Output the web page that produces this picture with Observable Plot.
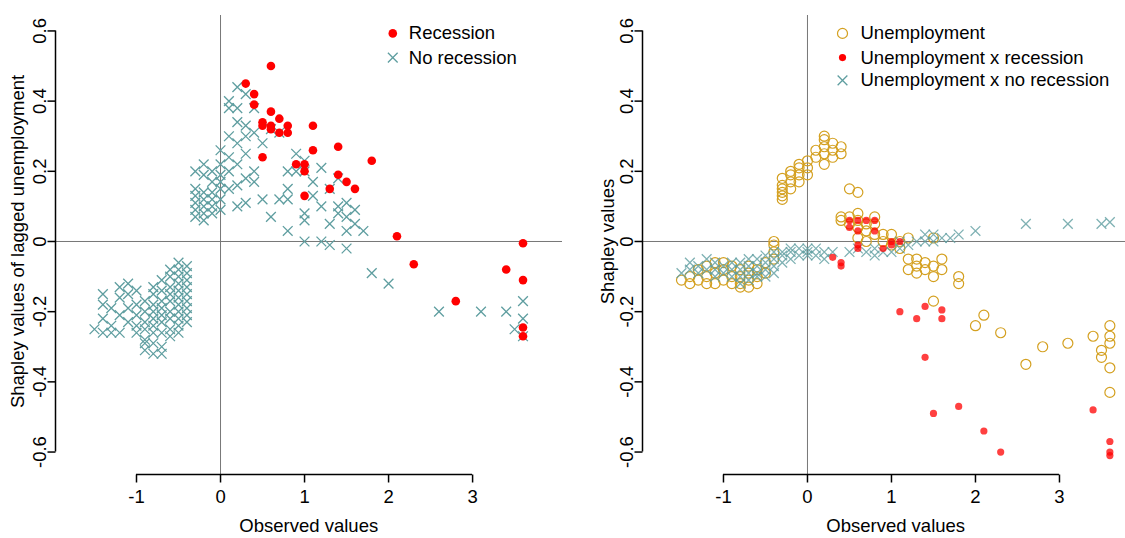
<!DOCTYPE html>
<html><head><meta charset="utf-8">
<script src="https://cdn.jsdelivr.net/npm/d3@7"></script>
<script src="https://cdn.jsdelivr.net/npm/@observablehq/plot@0.6"></script>
<style>
body{margin:0;background:#fff;font-family:"Liberation Sans",Arial,sans-serif}
#wrap{display:flex;width:1125px}
</style></head><body><div id="wrap"></div>
<script>
const teal = "#5F9EA0", gold = "#D4A020", red = "#FF0000"

// left panel: lagged unemployment
const leftNoRec = [
[-1.5,-0.25],[-1.4,-0.15],[-1.4,-0.18],[-1.4,-0.22],[-1.4,-0.26],[-1.3,-0.19],[-1.3,-0.24],[-1.3,-0.26],
[-1.2,-0.13],[-1.2,-0.16],[-1.2,-0.21],[-1.2,-0.26],[-1.1,-0.12],[-1.1,-0.15],[-1.1,-0.19],[-1.1,-0.23],
[-1.0,-0.14],[-1.0,-0.18],[-1.0,-0.21],[-1.0,-0.24],[-1.0,-0.26],
[-0.9,-0.17],[-0.9,-0.2],[-0.9,-0.23],[-0.9,-0.25],[-0.9,-0.28],[-0.9,-0.29],[-0.9,-0.31],
[-0.8,-0.13],[-0.8,-0.15],[-0.8,-0.18],[-0.8,-0.2],[-0.8,-0.22],[-0.8,-0.24],[-0.8,-0.26],[-0.8,-0.29],[-0.8,-0.32],
[-0.7,-0.11],[-0.7,-0.14],[-0.7,-0.17],[-0.7,-0.19],[-0.7,-0.21],[-0.7,-0.23],[-0.7,-0.26],[-0.7,-0.3],[-0.7,-0.32],
[-0.6,-0.08],[-0.6,-0.1],[-0.6,-0.13],[-0.6,-0.15],[-0.6,-0.17],[-0.6,-0.2],[-0.6,-0.22],[-0.6,-0.25],[-0.6,-0.27],
[-0.5,-0.06],[-0.5,-0.08],[-0.5,-0.1],[-0.5,-0.12],[-0.5,-0.14],[-0.5,-0.16],[-0.5,-0.18],[-0.5,-0.2],[-0.5,-0.22],[-0.5,-0.24],[-0.5,-0.26],
[-0.4,-0.07],[-0.4,-0.09],[-0.4,-0.11],[-0.4,-0.13],[-0.4,-0.15],[-0.4,-0.17],[-0.4,-0.19],[-0.4,-0.21],[-0.4,-0.23],
[-0.3,0.07],[-0.3,0.09],[-0.3,0.11],[-0.3,0.13],[-0.3,0.15],[-0.3,0.2],
[-0.2,0.06],[-0.2,0.08],[-0.2,0.1],[-0.2,0.12],[-0.2,0.14],[-0.2,0.19],[-0.2,0.22],
[-0.1,0.08],[-0.1,0.1],[-0.1,0.12],[-0.1,0.14],[-0.1,0.17],[-0.1,0.2],
[0,0.09],[0,0.12],[0,0.15],[0,0.17],[0,0.19],[0,0.22],[0,0.26],
[0.1,0.15],[0.1,0.2],[0.1,0.24],[0.1,0.3],[0.1,0.38],[0.1,0.4],
[0.2,0.1],[0.2,0.16],[0.2,0.22],[0.2,0.28],[0.2,0.34],[0.2,0.38],[0.2,0.44],
[0.3,0.11],[0.3,0.18],[0.3,0.25],[0.3,0.3],[0.3,0.33],[0.3,0.42],
[0.4,0.17],[0.4,0.2],[0.4,0.31],[0.4,0.38],[0.5,0.12],[0.5,0.28],[0.6,0.07],[0.6,0.32],
[0.7,0.12],[0.7,0.31],[0.8,0.03],[0.8,0.12],[0.8,0.15],[0.8,0.2],[0.9,0.2],[0.9,0.25],
[1.0,0.0],[1.0,0.06],[1.0,0.08],[1.0,0.2],[1.0,0.23],[1.1,0.13],[1.1,0.17],
[1.2,0.0],[1.2,0.1],[1.2,0.21],[1.3,-0.01],[1.3,0.05],[1.3,0.15],[1.4,0.08],[1.4,0.1],[1.4,0.18],
[1.5,-0.02],[1.5,0.03],[1.5,0.07],[1.5,0.11],[1.6,0.05],[1.6,0.09],[1.7,0.03],[1.8,-0.09],[2.0,-0.12],
[2.6,-0.2],[3.1,-0.2],[3.4,-0.2],[3.5,-0.25],[3.6,-0.17],[3.6,-0.22],[3.6,-0.27]
]
const leftRec = [
[0.3,0.45],[0.4,0.42],[0.4,0.39],[0.5,0.34],[0.5,0.33],[0.5,0.24],[0.6,0.5],[0.6,0.37],[0.6,0.33],[0.6,0.32],
[0.7,0.35],[0.7,0.31],[0.8,0.33],[0.8,0.31],[0.9,0.22],[1.0,0.22],[1.0,0.2],[1.0,0.13],[1.1,0.33],[1.1,0.26],
[1.3,0.15],[1.4,0.27],[1.4,0.19],[1.5,0.17],[1.6,0.15],[1.8,0.23],[2.1,0.015],[2.3,-0.065],[2.8,-0.17],
[3.4,-0.08],[3.6,-0.005],[3.6,-0.11],[3.6,-0.245],[3.6,-0.27]
]

// right panel: unemployment and interactions
const rightUnemp = [
[-1.5,-0.11],[-1.4,-0.1],[-1.4,-0.12],[-1.3,-0.08],[-1.3,-0.11],[-1.2,-0.07],[-1.2,-0.1],[-1.2,-0.12],
[-1.1,-0.06],[-1.1,-0.09],[-1.1,-0.12],[-1.0,-0.06],[-1.0,-0.08],[-1.0,-0.11],[-0.9,-0.07],[-0.9,-0.1],[-0.9,-0.12],
[-0.8,-0.08],[-0.8,-0.1],[-0.8,-0.12],[-0.8,-0.13],[-0.7,-0.07],[-0.7,-0.09],[-0.7,-0.11],[-0.7,-0.13],
[-0.6,-0.08],[-0.6,-0.1],[-0.6,-0.12],[-0.5,-0.06],[-0.5,-0.09],[-0.4,-0.05],[-0.4,-0.03],[-0.4,-0.01],[-0.4,0.0],
[-0.3,0.12],[-0.3,0.13],[-0.3,0.14],[-0.3,0.15],[-0.3,0.16],[-0.3,0.18],[-0.2,0.15],[-0.2,0.17],[-0.2,0.19],[-0.2,0.2],
[-0.1,0.17],[-0.1,0.19],[-0.1,0.21],[-0.1,0.22],[0,0.19],[0,0.21],[0,0.23],[0.1,0.24],[0.1,0.26],
[0.2,0.22],[0.2,0.25],[0.2,0.27],[0.2,0.29],[0.2,0.3],[0.3,0.24],[0.3,0.26],[0.3,0.28],[0.4,0.25],[0.4,0.27],
[0.5,0.15],[0.6,0.14],[0.4,0.07],[0.4,0.06],[0.5,0.05],[0.5,0.07],[0.6,0.08],[0.6,0.06],[0.6,0.04],[0.6,0.01],
[0.7,0.05],[0.7,0.03],[0.7,0.0],[0.8,0.07],[0.8,0.05],[0.8,0.02],[0.9,0.02],[0.9,0.0],[1.0,-0.01],[1.0,0.02],
[1.1,0.0],[1.1,-0.02],[1.2,-0.05],[1.2,-0.08],[1.2,0.01],[1.3,-0.05],[1.3,-0.07],[1.3,-0.09],[1.4,-0.06],[1.4,-0.08],
[1.5,-0.07],[1.5,-0.1],[1.5,-0.17],[1.5,0.01],[1.6,-0.05],[1.6,-0.08],[1.8,-0.1],[1.8,-0.12],
[2.0,-0.24],[2.1,-0.21],[2.3,-0.26],[2.6,-0.35],[2.8,-0.3],[3.1,-0.29],[3.4,-0.27],[3.5,-0.31],[3.5,-0.33],
[3.6,-0.24],[3.6,-0.27],[3.6,-0.29],[3.6,-0.36],[3.6,-0.43]
]
const rightRec = [
[0.3,-0.045],[0.4,-0.06],[0.4,-0.07],[0.5,0.06],[0.5,0.04],[0.6,0.06],[0.6,0.03],[0.6,-0.01],[0.6,-0.02],
[0.7,0.06],[0.8,0.06],[0.8,0.03],[0.9,-0.02],[1.0,0.0],[1.0,-0.01],[1.1,0.0],
[1.1,-0.2],[1.3,-0.22],[1.4,-0.185],[1.4,-0.33],[1.5,-0.49],[1.6,-0.195],[1.6,-0.22],[1.8,-0.47],[2.1,-0.54],
[2.3,-0.6],[3.4,-0.48],[3.6,-0.57],[3.6,-0.6],[3.6,-0.61]
]
const rightNoRec = [
[-1.5,-0.09],[-1.4,-0.06],[-1.4,-0.08],[-1.3,-0.07],[-1.3,-0.09],[-1.2,-0.05],[-1.2,-0.08],
[-1.1,-0.06],[-1.1,-0.08],[-1.1,-0.1],[-1.0,-0.07],[-1.0,-0.09],[-0.9,-0.06],[-0.9,-0.08],[-0.9,-0.1],
[-0.8,-0.06],[-0.8,-0.08],[-0.8,-0.1],[-0.8,-0.12],[-0.7,-0.05],[-0.7,-0.07],[-0.7,-0.09],[-0.7,-0.11],
[-0.6,-0.05],[-0.6,-0.07],[-0.6,-0.09],[-0.6,-0.1],[-0.5,-0.04],[-0.5,-0.06],[-0.5,-0.08],[-0.5,-0.1],
[-0.4,-0.03],[-0.4,-0.05],[-0.4,-0.07],[-0.4,-0.09],[-0.3,-0.03],[-0.3,-0.04],[-0.3,-0.06],
[-0.2,-0.02],[-0.2,-0.03],[-0.2,-0.05],[-0.1,-0.02],[-0.1,-0.04],[0,-0.02],[0,-0.03],[0,-0.04],
[0.1,-0.02],[0.1,-0.04],[0.2,-0.03],[0.2,-0.05],[0.3,-0.03],[0.5,-0.03],[0.6,-0.02],[0.7,-0.03],
[0.8,-0.04],[0.8,-0.02],[0.9,-0.03],[1.0,-0.03],[1.1,-0.02],[1.1,0.0],[1.2,-0.01],[1.3,0.0],
[1.4,0.0],[1.4,0.02],[1.5,0.0],[1.5,0.02],[1.6,0.01],[1.7,0.01],[1.8,0.02],[2.0,0.03],
[2.6,0.05],[3.1,0.05],[3.5,0.05],[3.6,0.055]
]

const xTicks = [-1, 0, 1, 2, 3]
const yTicks = [-0.6, -0.4, -0.2, 0, 0.2, 0.4, 0.6]
const fmt = d => d === 0 ? "0" : d.toFixed(1)
const fs = 18.5

function panel({width, marginLeft, xmax, ylabel, labelDx, marks, legend}) {
  const xmin = -1.964, ymin = -0.664
  const tx = 8 / 84, ty = 8 / 351 // tick length, 8px
  return Plot.plot({
    width, height: 538, marginLeft, marginRight: 0, marginTop: 15, marginBottom: 64,
    style: {fontFamily: "Liberation Sans, Arial, sans-serif", fontSize: fs + "px", background: "white"},
    x: {domain: [xmin, xmax], axis: null},
    y: {domain: [ymin, 0.644], axis: null},
    marks: [
      Plot.ruleX([0], {stroke: "#777", strokeWidth: 1}),
      Plot.ruleY([0], {stroke: "#777", strokeWidth: 1}),
      ...marks,
      // R style axes
      Plot.ruleX([xmin], {y1: -0.6, y2: 0.6, stroke: "black", strokeWidth: 1.5}),
      Plot.link(yTicks, {x1: xmin, x2: xmin - tx, y1: d => d, y2: d => d, stroke: "black", strokeWidth: 1.5}),
      Plot.text(yTicks, {x: xmin, y: d => d, text: fmt, rotate: -90, dx: -15, fill: "black", fontSize: fs}),
      Plot.ruleY([ymin], {x1: -1, x2: 3, stroke: "black", strokeWidth: 1.5}),
      Plot.link(xTicks, {x1: d => d, x2: d => d, y1: ymin, y2: ymin - ty, stroke: "black", strokeWidth: 1.5}),
      Plot.text(xTicks, {x: d => d, y: ymin, text: d => String(d), dy: 23, fill: "black", fontSize: fs}),
      Plot.text(["Observed values"], {x: 1.05, y: ymin, dy: 52, fill: "black", fontSize: fs}),
      Plot.text([ylabel], {x: xmin, y: 0.0, dx: labelDx, rotate: -90, fill: "black", fontSize: fs}),
      ...legend
    ]
  })
}

const left = panel({
  width: 562, marginLeft: 55, xmax: 4.07, labelDx: -37,
  ylabel: "Shapley values of lagged unemployment",
  marks: [
    Plot.dot(leftNoRec, {x: "0", y: "1", symbol: "times", r: 4.5, stroke: teal, strokeWidth: 1.3}),
    Plot.dot(leftRec, {x: "0", y: "1", r: 4.3, fill: red, stroke: "none"})
  ],
  legend: [
    Plot.dot([[2.05, 0.593]], {x: "0", y: "1", r: 4.3, fill: red, stroke: "none"}),
    Plot.dot([[2.05, 0.524]], {x: "0", y: "1", symbol: "times", r: 4.5, stroke: teal, strokeWidth: 1.3}),
    Plot.text([[2.05, 0.593, "Recession"], [2.05, 0.524, "No recession"]], {x: "0", y: "1", text: "2", dx: 16, textAnchor: "start", fill: "black", fontSize: fs})
  ]
})

const right = panel({
  width: 563, marginLeft: 80, xmax: 3.786, labelDx: -34,
  ylabel: "Shapley values",
  marks: [
    Plot.dot(rightUnemp, {x: "0", y: "1", r: 5, stroke: gold, strokeWidth: 1.2, fill: "none"}),
    Plot.dot(rightNoRec, {x: "0", y: "1", symbol: "times", r: 4.5, stroke: teal, strokeWidth: 1.3, strokeOpacity: 0.8}),
    Plot.dot(rightRec, {x: "0", y: "1", r: 3.6, fill: red, fillOpacity: 0.75, stroke: "none"})
  ],
  legend: [
    Plot.dot([[0.417, 0.593]], {x: "0", y: "1", r: 5, stroke: gold, strokeWidth: 1.2, fill: "none"}),
    Plot.dot([[0.417, 0.524]], {x: "0", y: "1", r: 3.6, fill: red, stroke: "none"}),
    Plot.dot([[0.417, 0.459]], {x: "0", y: "1", symbol: "times", r: 4.5, stroke: teal, strokeWidth: 1.3}),
    Plot.text([[0.417, 0.593, "Unemployment"], [0.417, 0.524, "Unemployment x recession"], [0.417, 0.459, "Unemployment x no recession"]], {x: "0", y: "1", text: "2", dx: 18, textAnchor: "start", fill: "black", fontSize: fs})
  ]
})

d3.select("#wrap").append(() => left)
d3.select("#wrap").append(() => right)
</script></body></html>
